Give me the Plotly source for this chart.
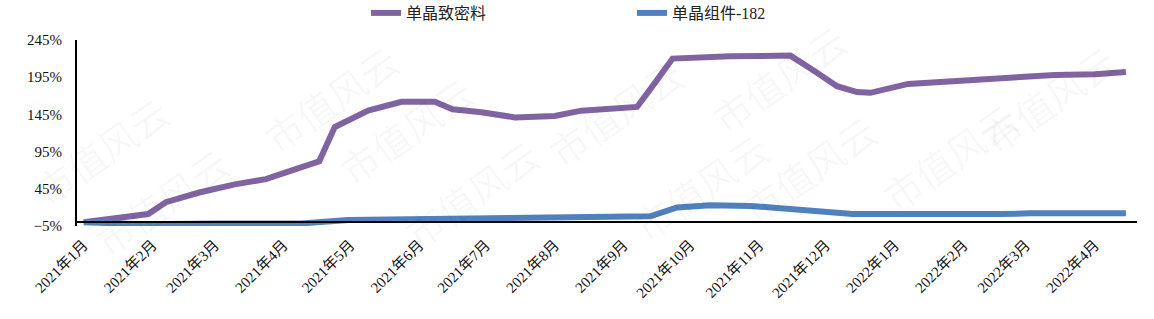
import plotly.graph_objects as go

# ---- data ----
purple_name = "单晶致密料"
purple_dates = ["2021-01-01", "2021-01-30", "2021-02-07", "2021-02-22", "2021-03-10", "2021-03-24",
                "2021-04-02", "2021-04-17", "2021-04-24", "2021-05-09", "2021-05-24", "2021-06-08",
                "2021-06-16", "2021-06-29", "2021-07-14", "2021-08-01", "2021-08-13", "2021-09-03",
                "2021-09-07", "2021-09-13", "2021-09-23", "2021-10-19", "2021-11-15", "2021-11-26",
                "2021-12-06", "2021-12-15", "2021-12-21", "2022-01-07", "2022-01-29", "2022-02-24",
                "2022-03-14", "2022-04-01", "2022-04-15"]
purple_vals = [0, 11, 27, 40, 51, 58,
               67, 82, 128, 150, 162, 162,
               152, 148, 141, 143, 150, 154,
               155, 179, 220, 223, 224, 203,
               183, 175, 174, 186, 190, 195,
               198, 199, 202]

blue_name = "单晶组件-182"
blue_dates = ["2021-01-01", "2021-01-27", "2021-03-02", "2021-04-09", "2021-04-30", "2021-05-27",
              "2021-07-18", "2021-08-18", "2021-09-13", "2021-09-25", "2021-10-10", "2021-10-28",
              "2021-11-13", "2021-12-04", "2021-12-13", "2022-02-17", "2022-03-03", "2022-04-15"]
blue_vals = [0, -2.5, -1.5, -1.5, 3, 4,
             4, 6, 8, 20, 23, 22,
             18, 14, 11, 11, 12, 12]

tick_dates = ["2021-01-01", "2021-02-01", "2021-03-01", "2021-04-01", "2021-05-01", "2021-06-01",
              "2021-07-01", "2021-08-01", "2021-09-01", "2021-10-01", "2021-11-01", "2021-12-01",
              "2022-01-01", "2022-02-01", "2022-03-01", "2022-04-01"]
tick_labels = ["2021年1月", "2021年2月", "2021年3月", "2021年4月", "2021年5月", "2021年6月",
               "2021年7月", "2021年8月", "2021年9月", "2021年10月", "2021年11月", "2021年12月",
               "2022年1月", "2022年2月", "2022年3月", "2022年4月"]

watermark = "市值风云"
wm_positions = [(250, 30), (325, 130), (20, 150), (390, 262), (80, 270), (615, 112),
                (890, 100), (700, 255), (1030, 225), (860, 10), (1130, 30)]

FONT = "Liberation Serif, 'Noto Sans CJK SC', serif"
W, H = 1154, 319
ML, MR, MT, MB = 77, 17, 40, 93

fig = go.Figure()
fig.add_trace(go.Scatter(x=purple_dates, y=purple_vals, name=purple_name, mode="lines",
                         line=dict(color="#8064A2", width=6)))
fig.add_trace(go.Scatter(x=blue_dates, y=blue_vals, name=blue_name, mode="lines",
                         line=dict(color="#4F81BD", width=6)))

pw, ph = W - ML - MR, H - MT - MB
for (px, py) in wm_positions:
    fig.add_annotation(text=watermark, xref="paper", yref="paper",
                       x=(px - ML) / pw, y=(H - MB - py) / ph, showarrow=False,
                       textangle=-35, font=dict(size=38, color="rgba(0,0,0,0.035)",
                                                family="'Noto Sans CJK SC'"))

fig.update_layout(
    width=W, height=H,
    margin=dict(l=ML, r=MR, t=MT, b=MB, autoexpand=False),
    paper_bgcolor="white", plot_bgcolor="white",
    font=dict(family=FONT, size=15, color="#000000"),
    showlegend=True,
    legend=dict(orientation="h", x=(366 - ML) / pw, xanchor="left", y=(H - MB - 13) / ph,
                yanchor="middle", font=dict(size=16, family=FONT, color="#222222"),
                entrywidth=221, entrywidthmode="pixels", bgcolor="rgba(0,0,0,0)"),
    xaxis=dict(type="date", range=["2020-12-29", "2022-04-20"],
               tickvals=tick_dates, ticktext=tick_labels, tickangle=-45,
               showline=True, linecolor="black", linewidth=2,
               anchor="free", position=5 / 250,
               showgrid=False, zeroline=False, ticks="", ticklabelstandoff=7,
               tickfont=dict(size=15, family=FONT, color="#111111")),
    yaxis=dict(range=[-5, 245], tick0=-5, dtick=50, ticksuffix="%",
               showline=True, linecolor="black", linewidth=2,
               showgrid=False, zeroline=False, ticks="", ticklabelstandoff=10,
               tickfont=dict(size=15, family=FONT, color="#111111")),
)

fig.write_html("out.html")
